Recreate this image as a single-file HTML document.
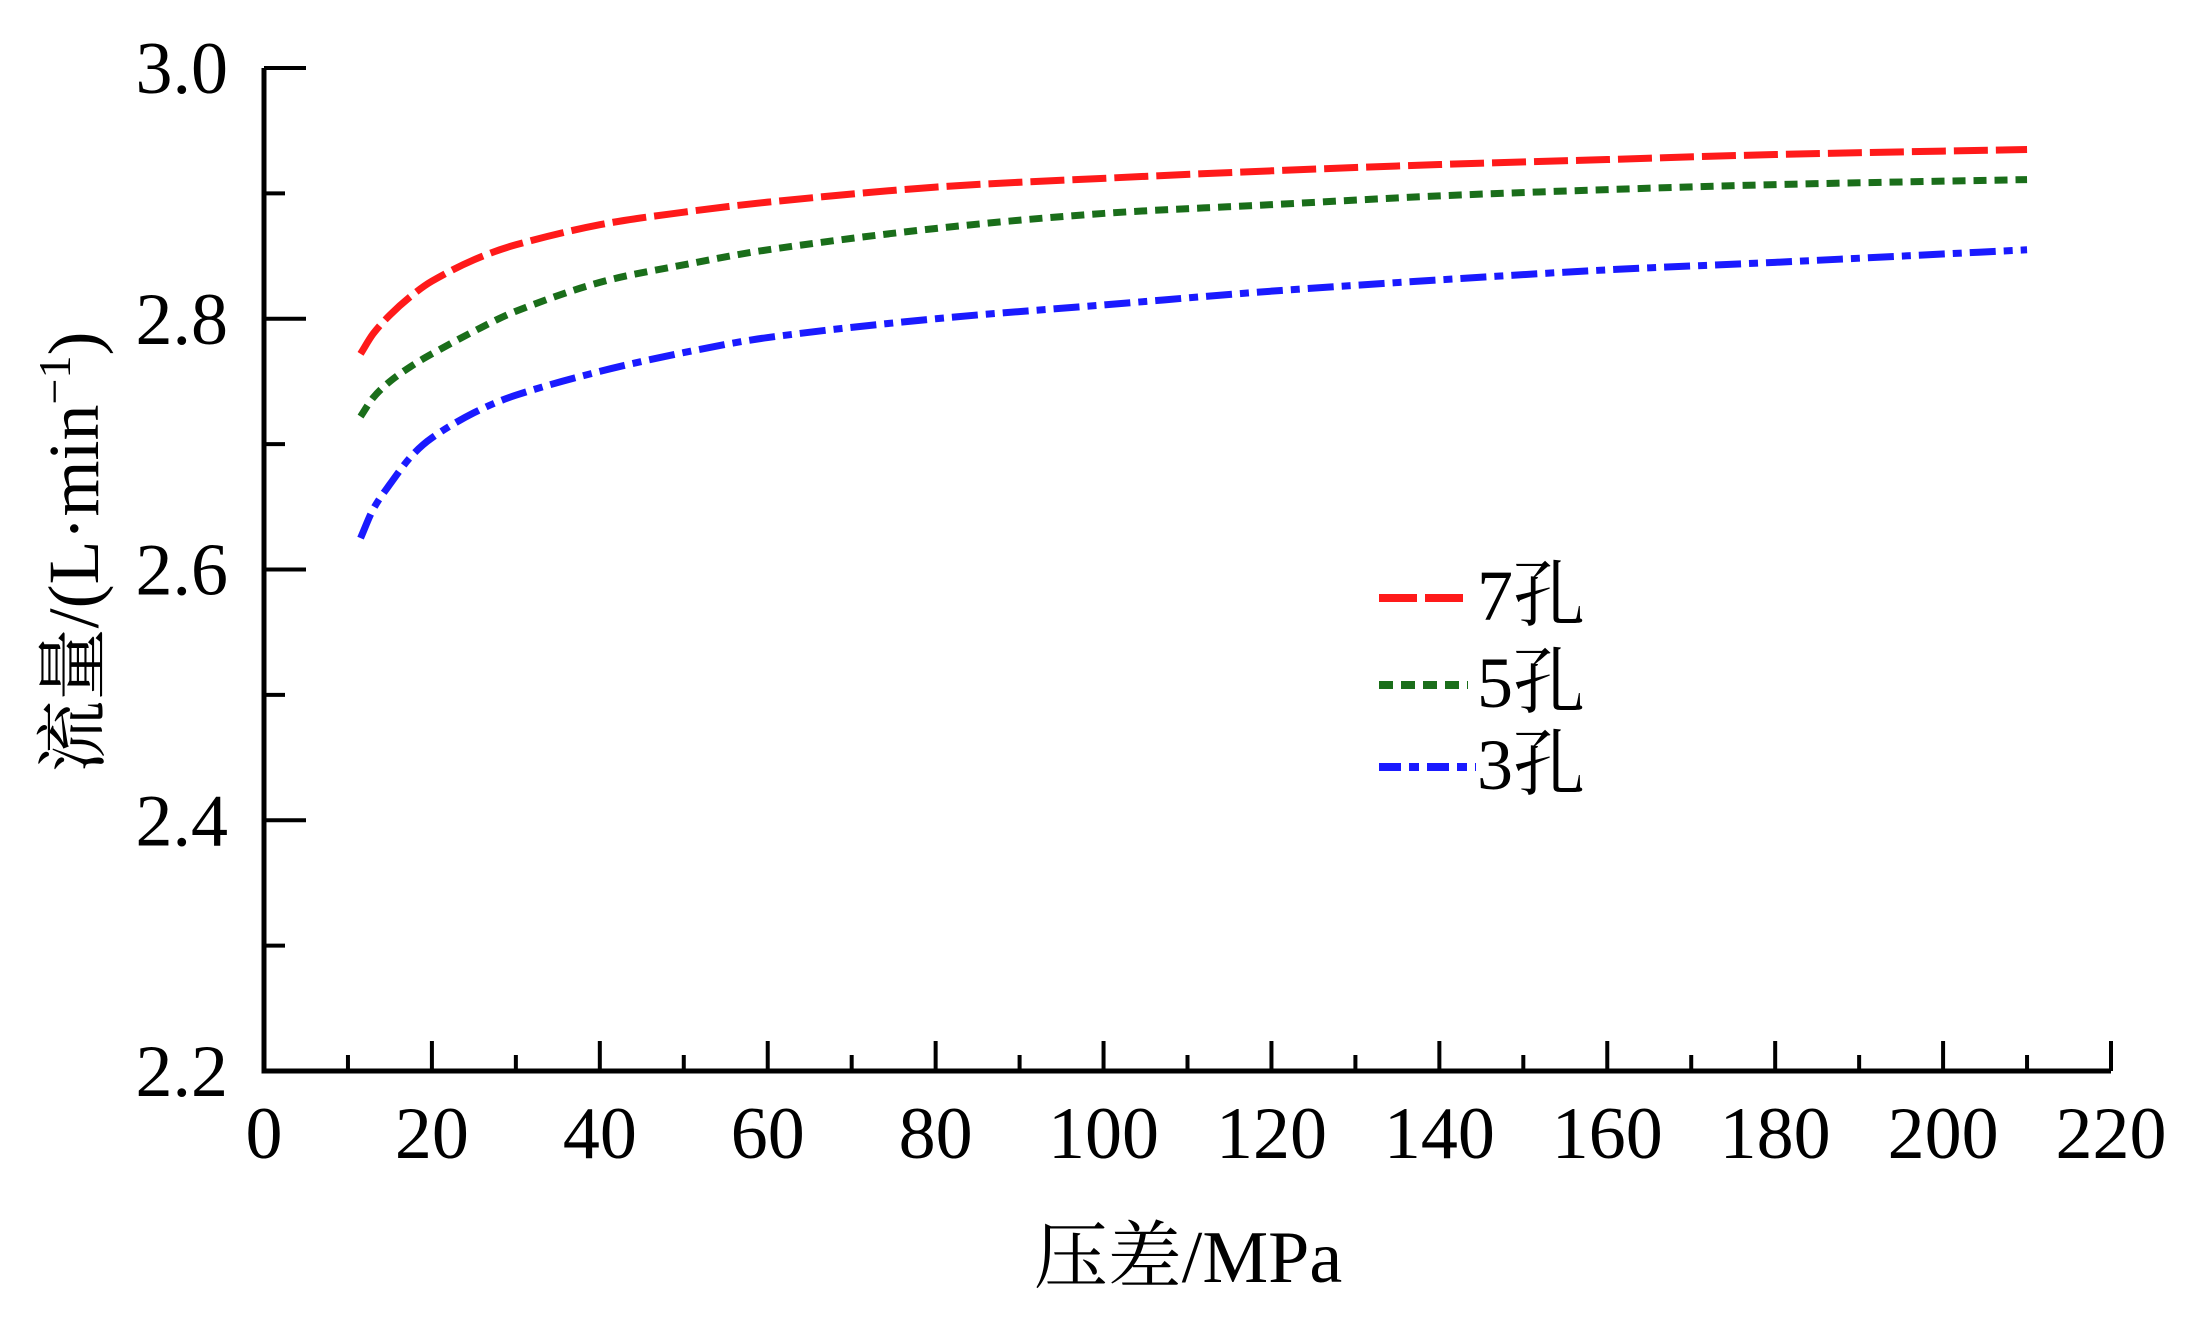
<!DOCTYPE html>
<html><head><meta charset="utf-8"><style>
html,body{margin:0;padding:0;background:#fff;}
svg{display:block;}
text{font-family:"Liberation Serif","Noto Serif CJK SC",serif;fill:#000;}
</style></head><body>
<svg id="chart" width="2211" height="1329" viewBox="0 0 2211 1329" xmlns="http://www.w3.org/2000/svg">
<g id="axes"></g>
<g id="series"></g>
<text x="1188" y="1282" font-size="74" text-anchor="middle">压差/MPa</text>
<text transform="translate(98,552) rotate(-90)" font-size="72" text-anchor="middle">流量/(L·min<tspan dy="-28" font-size="46">−1</tspan><tspan dy="28">)</tspan></text>
<g>
<line x1="1379" y1="598" x2="1468" y2="598" stroke="#ff1a1a" stroke-width="8" stroke-dasharray="38,8"/>
<text x="1477" y="620" font-size="72">7孔</text>
<line x1="1379" y1="685" x2="1468" y2="685" stroke="#1a6e1a" stroke-width="8" stroke-dasharray="14,8"/>
<text x="1477" y="707" font-size="72">5孔</text>
<line x1="1379" y1="767" x2="1476" y2="767" stroke="#1a1aff" stroke-width="8" stroke-dasharray="22,8,10,8"/>
<text x="1477" y="789" font-size="72">3孔</text>
</g>
</svg>
<script>
const xValues = [11.5, 13, 15, 17.5, 20, 25, 30, 40, 50, 60, 80, 100, 120, 140, 160, 180, 210];
const series7 = [2.772, 2.788, 2.803, 2.818, 2.83, 2.847, 2.859, 2.875, 2.885, 2.893, 2.905, 2.912, 2.918, 2.923, 2.927, 2.931, 2.935];
const series5 = [2.722, 2.737, 2.75, 2.762, 2.772, 2.79, 2.806, 2.829, 2.843, 2.855, 2.872, 2.884, 2.891, 2.898, 2.903, 2.907, 2.911];
const series3 = [2.625, 2.648, 2.668, 2.69, 2.705, 2.725, 2.739, 2.758, 2.773, 2.785, 2.80, 2.811, 2.822, 2.831, 2.839, 2.845, 2.855];
const xTicks = [0, 20, 40, 60, 80, 100, 120, 140, 160, 180, 200, 220];
const yTicks = [2.2, 2.4, 2.6, 2.8, 3.0];

const NS = "http://www.w3.org/2000/svg";
function sx(v){ return 264 + (v - 0) / 220 * (2111 - 264); }
function sy(v){ return 1071 - (v - 2.2) / 0.8 * (1071 - 68); }
function mk(tag, attrs, parent){
  const e = document.createElementNS(NS, tag);
  for (const k in attrs) e.setAttribute(k, attrs[k]);
  parent.appendChild(e); return e;
}
const axes = document.getElementById('axes');
let a = mk('path', {d:`M${sx(0)},${sy(3.0)} V${sy(2.2)} H${sx(220)}`, fill:'none', stroke:'#000', 'stroke-width':5}, axes);


for (let v = 2.2; v <= 3.0001; v += 0.1) {
  const major = Math.round(v*10) % 2 === 0;
  if (Math.abs(v-2.2) < 1e-6) continue;
  const t = mk('line', {x1:sx(0), x2:sx(0)+(major?42:21), y1:sy(v), y2:sy(v), stroke:'#000', 'stroke-width':4}, axes);
  
  
}
yTicks.forEach(v => {
  const t = mk('text', {x:228, y:sy(v)+25, 'font-size':74, 'text-anchor':'end'}, axes);
  t.textContent = v.toFixed(1);
  
  
});
for (let v = 10; v <= 220; v += 10) {
  const major = v % 20 === 0;
  const t = mk('line', {x1:sx(v), x2:sx(v), y1:sy(2.2), y2:sy(2.2)-(major?30:16), stroke:'#000', 'stroke-width':4}, axes);
  
  
}
xTicks.forEach(v => {
  const t = mk('text', {x:sx(v), y:1158, 'font-size':74, 'text-anchor':'middle'}, axes);
  t.textContent = String(v);
  
  
});
function pathFor(ys){
  const p = xValues.map((x,i)=>[sx(x), sy(ys[i])]);
  let d = `M${p[0][0]},${p[0][1]}`;
  for (let i=0;i<p.length-1;i++){
    const p0=p[Math.max(0,i-1)], p1=p[i], p2=p[i+1], p3=p[Math.min(p.length-1,i+2)];
    const h=(p2[0]-p1[0]);
    const m1=(p2[1]-p0[1])/((p2[0]-p0[0])||1), m2=(p3[1]-p1[1])/((p3[0]-p1[0])||1);
    d += ` C${p1[0]+h/3},${p1[1]+m1*h/3} ${p2[0]-h/3},${p2[1]-m2*h/3} ${p2[0]},${p2[1]}`;
  }
  return d;
}
const sg = document.getElementById('series');
let s7 = mk('path', {d:pathFor(series7), fill:'none', stroke:'#ff1a1a', 'stroke-width':7, 'stroke-dasharray':'34,8'}, sg);


let s5 = mk('path', {d:pathFor(series5), fill:'none', stroke:'#1a6e1a', 'stroke-width':7, 'stroke-dasharray':'13,8'}, sg);


let s3 = mk('path', {d:pathFor(series3), fill:'none', stroke:'#1a1aff', 'stroke-width':7, 'stroke-dasharray':'26,8,9,8'}, sg);


</script>
</body></html>
